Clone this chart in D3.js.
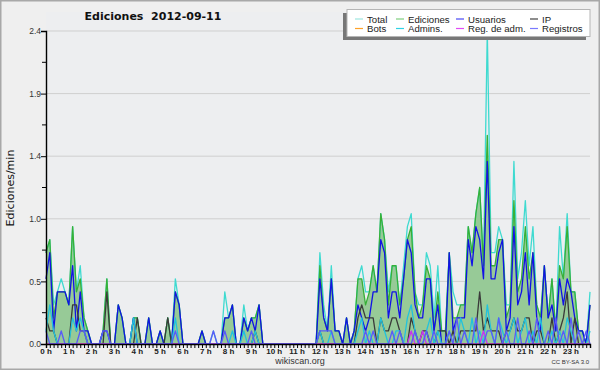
<!DOCTYPE html>
<html>
<head>
<meta charset="utf-8">
<script src="https://cdn.jsdelivr.net/npm/d3@7/dist/d3.min.js"></script>
<style>
body { margin: 0; background: #efefef; }
svg { display: block; }
</style>
</head>
<body>
<div id="chart-area"></div>
<script>
// Ediciones per minute, 10-minute bins (144 per day)
var total = [
    0.7, 0.8, 0.3, 0.4, 0.5, 0.4,   0.3, 0.9, 0.4, 0.6, 0.2, 0.1,
    0, 0, 0, 0.1, 0.5, 0,           0, 0.3, 0.2, 0, 0, 0.2,
    0.2, 0, 0, 0.2, 0, 0,           0.1, 0, 0.2, 0, 0.5, 0.3,
    0, 0, 0, 0, 0, 0.1,             0, 0, 0.1, 0, 0, 0.4,
    0.2, 0.3, 0, 0, 0.3, 0.1,       0.2, 0.2, 0.3, 0, 0, 0,
    0, 0, 0, 0, 0, 0,               0, 0, 0, 0, 0, 0,
    0.7, 0.3, 0.1, 0.6, 0.1, 0.1,   0, 0.2, 0, 0.1, 0.5, 0.6,
    0.4, 0.4, 0.6, 0.4, 1.0, 0.8,   0.4, 0.6, 0.6, 0.3, 0.6, 0.9,
    1.0, 0.4, 0.3, 0.3, 0.7, 0.6,   0.2, 0.6, 0.1, 0.1, 0.7, 0.4,
    0.3, 0.3, 0.3, 0.9, 0.7, 1.0,   1.2, 0.6, 2.4, 0.7, 0.7, 0.9,
    0.8, 0.3, 0.3, 1.4, 0.5, 0.7,   1.1, 0.6, 0.9, 0.3, 0.2, 0.6,
    0.2, 0.5, 0.1, 0.9, 0.5, 1.0,   0.4, 0.4, 0.1, 0.1, 0, 0.4
];
var ediciones = [
    0.7, 0.8, 0.2, 0.4, 0.4, 0.4,   0.3, 0.9, 0.4, 0.5, 0.2, 0.1,
    0, 0, 0, 0.1, 0.5, 0,           0, 0.3, 0.2, 0, 0, 0.2,
    0.2, 0, 0, 0.2, 0, 0,           0.1, 0, 0.2, 0, 0.4, 0.3,
    0, 0, 0, 0, 0, 0.1,             0, 0, 0, 0, 0, 0.2,
    0.2, 0.3, 0, 0, 0.2, 0.1,       0.2, 0.2, 0.3, 0, 0, 0,
    0, 0, 0, 0, 0, 0,               0, 0, 0, 0, 0, 0,
    0.6, 0.2, 0.1, 0.5, 0.1, 0.1,   0, 0.2, 0, 0.1, 0.5, 0.5,
    0.3, 0.4, 0.6, 0.4, 1.0, 0.8,   0.3, 0.6, 0.6, 0.3, 0.5, 0.8,
    0.9, 0.4, 0.2, 0.3, 0.6, 0.5,   0.1, 0.4, 0.1, 0.1, 0.7, 0.2,
    0.2, 0.3, 0.3, 0.9, 0.7, 1.0,   1.2, 0.6, 1.6, 0.6, 0.6, 0.8,
    0.8, 0.2, 0.3, 1.1, 0.4, 0.5,   0.9, 0.5, 0.7, 0.3, 0.2, 0.6,
    0.2, 0.5, 0.1, 0.6, 0.5, 0.9,   0.4, 0.4, 0.1, 0.1, 0, 0.3
];
var usuarios = [
    0.5, 0.7, 0.1, 0.4, 0.4, 0.4,   0.3, 0.6, 0.1, 0.4, 0.1, 0.1,
    0, 0, 0, 0.1, 0.1, 0,           0, 0.3, 0.2, 0, 0, 0.2,
    0, 0, 0, 0.2, 0, 0,             0.1, 0, 0, 0, 0.4, 0.3,
    0, 0, 0, 0, 0, 0.1,             0, 0, 0, 0, 0, 0.2,
    0.2, 0.3, 0, 0, 0.2, 0.1,       0.2, 0.1, 0.3, 0, 0, 0,
    0, 0, 0, 0, 0, 0,               0, 0, 0, 0, 0, 0,
    0.5, 0.2, 0.1, 0.5, 0.1, 0.1,   0, 0.2, 0, 0.1, 0.3, 0.2,
    0.1, 0.2, 0.4, 0.4, 0.8, 0.7,   0.2, 0.4, 0.4, 0.2, 0.5, 0.8,
    0.7, 0.3, 0.2, 0.2, 0.5, 0.5,   0.1, 0.3, 0, 0, 0.7, 0.1,
    0.2, 0.2, 0.2, 0.8, 0.6, 0.9,   0.8, 0.5, 1.4, 0.5, 0.5, 0.7,
    0.8, 0.1, 0.2, 0.9, 0.3, 0.4,   0.7, 0.3, 0.7, 0.2, 0.1, 0.6,
    0.2, 0.3, 0.1, 0.5, 0.3, 0.5,   0.4, 0.2, 0.1, 0.1, 0, 0.3
];
var ip = [
    0.2, 0.1, 0.1, 0, 0, 0,         0, 0.3, 0.3, 0.1, 0.1, 0,
    0, 0, 0, 0, 0.4, 0,             0, 0, 0, 0, 0, 0,
    0.2, 0, 0, 0, 0, 0,             0, 0, 0.2, 0, 0, 0,
    0, 0, 0, 0, 0, 0,               0, 0, 0, 0, 0, 0,
    0, 0, 0, 0, 0, 0,               0, 0.1, 0, 0, 0, 0,
    0, 0, 0, 0, 0, 0,               0, 0, 0, 0, 0, 0,
    0.1, 0, 0, 0, 0, 0,             0, 0, 0, 0, 0.2, 0.3,
    0.2, 0.2, 0.2, 0, 0.2, 0.1,     0.1, 0.2, 0.2, 0.1, 0, 0,
    0.2, 0.1, 0, 0.1, 0.1, 0,       0, 0.1, 0.1, 0.1, 0, 0.1,
    0, 0.1, 0.1, 0.1, 0.1, 0.1,     0.4, 0.1, 0.2, 0.1, 0.1, 0.1,
    0, 0.1, 0.1, 0.2, 0.1, 0.1,     0.2, 0.2, 0, 0.1, 0.1, 0,
    0, 0.2, 0, 0.1, 0.2, 0.4,       0, 0.2, 0, 0, 0, 0
];
var bots = [
    0, 0, 0, 0, 0, 0,  0, 0, 0, 0, 0, 0,  0, 0, 0, 0, 0, 0,  0, 0, 0, 0, 0, 0,
    0, 0, 0, 0, 0, 0,  0, 0, 0, 0, 0, 0,  0, 0, 0, 0, 0, 0,  0, 0, 0, 0, 0, 0,
    0, 0, 0, 0, 0, 0,  0, 0, 0, 0, 0, 0,  0, 0, 0, 0, 0, 0,  0, 0, 0, 0, 0, 0,
    0, 0, 0, 0, 0, 0,  0, 0, 0, 0, 0, 0,  0, 0, 0, 0, 0, 0,  0, 0, 0, 0, 0, 0,
    0, 0, 0, 0, 0, 0,  0, 0, 0, 0, 0, 0,  0, 0, 0, 0, 0, 0,  0, 0, 0, 0, 0, 0,
    0, 0, 0, 0, 0, 0,  0, 0, 0, 0, 0, 0,  0, 0, 0, 0, 0, 0,  0, 0, 0, 0, 0, 0
];
var admins = [
    0.1, 0.3, 0.1, 0, 0, 0,         0, 0.2, 0.1, 0.2, 0.1, 0,
    0, 0, 0, 0, 0, 0,               0, 0, 0, 0, 0, 0.2,
    0, 0, 0, 0, 0, 0,               0, 0, 0, 0, 0.2, 0,
    0, 0, 0, 0, 0, 0,               0, 0, 0, 0, 0, 0,
    0, 0.1, 0, 0, 0.1, 0,           0, 0.1, 0, 0, 0, 0,
    0, 0, 0, 0, 0, 0,               0, 0, 0, 0, 0, 0,
    0.1, 0, 0, 0.1, 0, 0,           0, 0, 0, 0, 0.1, 0.2,
    0, 0.1, 0, 0, 0.2, 0.1,         0, 0, 0.1, 0.1, 0, 0.2,
    0.3, 0.1, 0, 0, 0.1, 0.2,       0, 0.1, 0, 0, 0.1, 0,
    0, 0.2, 0.1, 0, 0.2, 0,         0.1, 0, 0.3, 0.1, 0, 0.2,
    0.1, 0, 0.1, 0.2, 0, 0.1,       0.2, 0, 0.1, 0, 0.2, 0,
    0, 0.1, 0, 0.1, 0, 0.2,         0.1, 0, 0, 0, 0, 0.1
];
var regAdm = [
    0, 0, 0, 0, 0, 0,  0, 0, 0, 0, 0, 0,  0, 0, 0, 0, 0, 0,  0, 0, 0, 0, 0, 0,
    0, 0, 0, 0, 0, 0,  0, 0, 0, 0, 0, 0,  0, 0, 0, 0, 0, 0,  0, 0, 0, 0, 0, 0,
    0, 0, 0, 0, 0, 0,  0, 0, 0, 0, 0, 0,  0, 0, 0, 0, 0, 0,  0, 0, 0, 0, 0, 0,
    0, 0, 0, 0, 0, 0,  0, 0, 0, 0, 0, 0,  0, 0, 0, 0, 0, 0,  0, 0, 0, 0, 0, 0,
    0.1, 0, 0, 0.1, 0, 0,  0, 0, 0, 0, 0, 0,  0, 0, 0, 0, 0, 0,  0, 0.1, 0, 0, 0, 0,
    0, 0, 0, 0, 0, 0,  0, 0, 0, 0, 0, 0,  0, 0, 0, 0, 0, 0,  0, 0, 0, 0, 0, 0
];
var registros = [
    0.1, 0, 0, 0, 0.1, 0,           0, 0, 0, 0.1, 0.1, 0,
    0, 0, 0, 0.1, 0.1, 0,           0, 0, 0, 0, 0, 0,
    0, 0, 0, 0, 0, 0,               0, 0, 0, 0, 0.1, 0,
    0, 0, 0, 0, 0, 0,               0, 0, 0.1, 0, 0, 0.1,
    0, 0, 0, 0, 0, 0,               0.1, 0, 0, 0, 0, 0,
    0, 0, 0, 0, 0, 0,               0, 0, 0, 0, 0, 0,
    0.1, 0.1, 0.1, 0.1, 0, 0,       0, 0, 0, 0, 0, 0,
    0.1, 0, 0.1, 0, 0, 0,           0, 0.1, 0, 0.1, 0, 0,
    0, 0.1, 0, 0, 0.1, 0,           0.1, 0, 0, 0, 0.1, 0,
    0.2, 0, 0.1, 0, 0, 0.2,         0, 0, 0.1, 0.1, 0, 0.2,
    0, 0.1, 0, 0, 0.2, 0,           0, 0.1, 0, 0.2, 0, 0,
    0.1, 0, 0.2, 0, 0.1, 0,         0.2, 0, 0.1, 0, 0.1, 0
];

var hourLabels = ["0 h", "1 h", "2 h", "3 h", "4 h", "5 h", "6 h", "7 h", "8 h", "9 h",
    "10 h", "11 h", "12 h", "13 h", "14 h", "15 h", "16 h", "17 h", "18 h", "19 h",
    "20 h", "21 h", "22 h", "23 h"];
var yTicks = [0, 0.48, 0.96, 1.44, 1.92, 2.4];

var legendNames = ["Total", "Ediciones", "Usuarios", "IP", "Bots", "Admins.", "Reg. de adm.", "Registros"];
var legendColors = ["#9ee6e0", "#7fcf7f", "#4a4af5", "#444444", "#ffa22a", "#30d2e4", "#e04cf5", "#7a7aff"];

var W = 600, H = 370;
var margin = { left: 46, right: 10, top: 31, bottom: 26 };

var svg = d3.select("#chart-area").append("svg")
    .attr("width", W)
    .attr("height", H)
    .style("font-family", "'Liberation Sans', Arial, sans-serif");

svg.append("rect")
    .attr("x", 0.75).attr("y", 0.75)
    .attr("width", W - 1.5).attr("height", H - 1.5)
    .attr("fill", "#efefef")
    .attr("stroke", "#a8a8a8")
    .attr("stroke-width", 1.5);

// Plot background
svg.append("rect")
    .attr("x", margin.left).attr("y", 12)
    .attr("width", W - margin.right - margin.left)
    .attr("height", H - margin.bottom - 12)
    .attr("fill", "#edeef0");

// Scales
var x = d3.scaleLinear().domain([0, total.length - 1]).range([margin.left, W - margin.right]);
var y = d3.scaleLinear().domain([0, 2.4]).range([H - margin.bottom, margin.top]);

// Gridlines
svg.append("g").selectAll("line")
    .data(yTicks.slice(1))
    .enter().append("line")
    .attr("x1", margin.left).attr("x2", W - margin.right)
    .attr("y1", function(d) { return y(d); })
    .attr("y2", function(d) { return y(d); })
    .attr("stroke", "#cfcfcf")
    .attr("stroke-width", 1);

// Title
svg.append("text")
    .attr("x", 153).attr("y", 20)
    .attr("text-anchor", "middle")
    .style("font-family", "'DejaVu Sans', sans-serif")
    .style("font-weight", "bold")
    .style("font-size", "11px")
    .attr("fill", "#111")
    .attr("xml:space", "preserve")
    .text("Ediciones  2012-09-11");

// Y label
svg.append("text")
    .attr("transform", "rotate(-90)")
    .attr("x", -188).attr("y", 14)
    .attr("text-anchor", "middle")
    .style("font-family", "'DejaVu Sans', sans-serif")
    .style("font-size", "11px")
    .attr("fill", "#111")
    .text("Ediciones/min");

// Series
var idx = d3.range(total.length);

var area = d3.area()
    .x(function(i) { return x(i); })
    .y0(y(0))
    .y1(function(i) { return y(ediciones[i]); });

svg.append("path")
    .attr("d", area(idx))
    .attr("fill", "#97ca97");

var seriesList = [
    { values: total, color: "#3edad0" },
    { values: ediciones, color: "#37b037" },
    { values: bots, color: "#ff9f1f" },
    { values: usuarios, color: "#1212e6" },
    { values: ip, color: "#3a3a3a" },
    { values: admins, color: "#22c2dd" },
    { values: regAdm, color: "#cc33ee" },
    { values: registros, color: "#5a5af8" }
];

seriesList.forEach(function(s) {
    var line = d3.line()
        .x(function(i) { return x(i); })
        .y(function(i) { return y(s.values[i]); });
    svg.append("path")
        .attr("d", line(idx))
        .attr("fill", "none")
        .attr("stroke", s.color)
        .attr("stroke-width", 1.3)
        .attr("stroke-linejoin", "round");
});

// Axes
var yAxisCall = d3.axisLeft(y)
    .tickValues(yTicks)
    .tickSize(5)
    .tickFormat(d3.format(".1f"));
var yAxis = svg.append("g")
    .attr("transform", "translate(" + margin.left + ",0)")
    .call(yAxisCall);
yAxis.select(".domain").attr("stroke", "#000").attr("stroke-width", 1.4);
yAxis.selectAll(".tick line").attr("stroke", "#000");
yAxis.selectAll("text")
    .attr("x", -5)
    .style("font-size", "8.5px")
    .attr("fill", "#333");

// minor y ticks
svg.append("g").selectAll("line")
    .data(yTicks.slice(1))
    .enter().append("line")
    .attr("x1", margin.left - 4).attr("x2", margin.left)
    .attr("y1", function(d) { return y(d - 0.24); })
    .attr("y2", function(d) { return y(d - 0.24); })
    .attr("stroke", "#000");

var xAxisCall = d3.axisBottom(x)
    .tickValues(idx)
    .tickSize(4)
    .tickFormat("");
var xAxis = svg.append("g")
    .attr("transform", "translate(0," + y(0) + ")")
    .call(xAxisCall);
xAxis.select(".domain").attr("stroke", "#000").attr("stroke-width", 1.4);
xAxis.selectAll(".tick line").attr("stroke", "#000");

svg.append("g").selectAll("text")
    .data(hourLabels)
    .enter().append("text")
    .attr("x", function(d, i) { return x(i * 6); })
    .attr("y", y(0) + 10)
    .attr("text-anchor", "middle")
    .style("font-size", "8px")
    .style("font-weight", "bold")
    .attr("fill", "#222")
    .text(function(d) { return d; });

// Footer
svg.append("text")
    .attr("x", 300).attr("y", 364)
    .attr("text-anchor", "middle")
    .style("font-size", "9px")
    .attr("fill", "#333")
    .text("wikiscan.org");

svg.append("text")
    .attr("x", 589).attr("y", 364)
    .attr("text-anchor", "end")
    .style("font-size", "6px")
    .attr("fill", "#333")
    .text("CC BY-SA 3.0");

// Legend
var legend = svg.append("g");
legend.append("rect")
    .attr("x", 343).attr("y", 13)
    .attr("width", 243).attr("height", 27)
    .attr("fill", "#777");
legend.append("rect")
    .attr("x", 347).attr("y", 9.5)
    .attr("width", 243).attr("height", 27)
    .attr("fill", "#fff")
    .attr("stroke", "#b5b5b5");

var colX = [355, 396, 456, 530];
var rowY = [19, 28.5];

legend.selectAll("g.entry")
    .data(legendNames)
    .enter().append("g")
    .attr("class", "entry")
    .each(function(d, i) {
        var col = i % 4, row = Math.floor(i / 4);
        var g = d3.select(this);
        g.append("line")
            .attr("x1", colX[col]).attr("x2", colX[col] + 8)
            .attr("y1", rowY[row]).attr("y2", rowY[row])
            .attr("stroke", legendColors[i])
            .attr("stroke-width", 1.2);
        g.append("text")
            .attr("x", colX[col] + 12)
            .attr("y", rowY[row] + 3.5)
            .style("font-size", "9.6px")
            .attr("fill", "#222")
            .text(d);
    });
</script>
</body>
</html>
